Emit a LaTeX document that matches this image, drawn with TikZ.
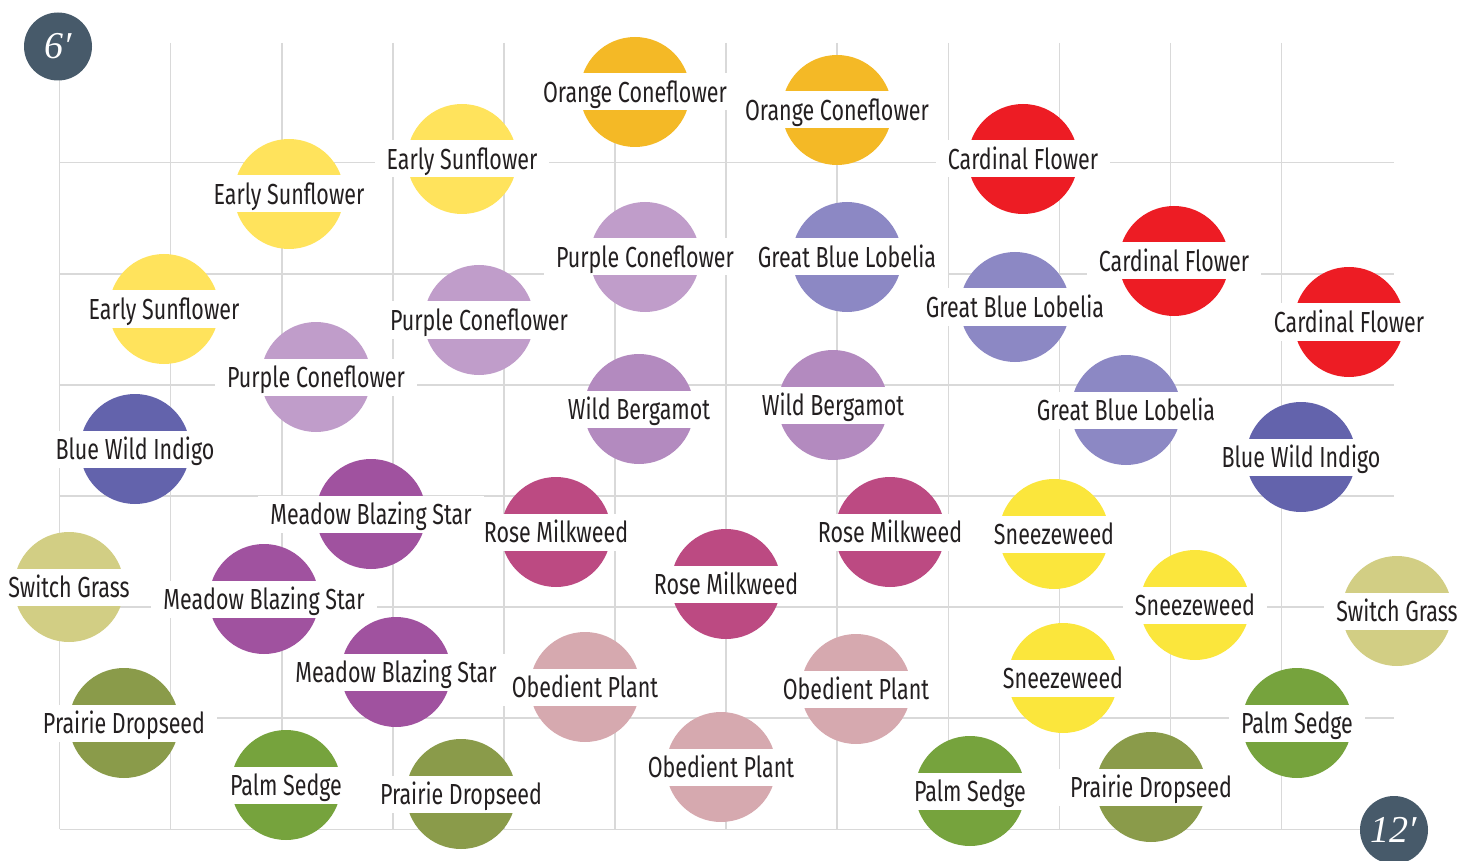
\documentclass[tikz,border=0pt]{standalone}
\usepackage{fontspec}
\newfontfamily\plantfont[FakeStretch=0.74]{Fira Sans}
\newfontfamily\feetfont{Liberation Serif}
\definecolor{gridgray}{HTML}{D9D9D9}
\definecolor{inkdark}{HTML}{231F20}
\definecolor{slate}{HTML}{475A6A}
\definecolor{orangecone}{HTML}{F4B926}
\definecolor{earlysun}{HTML}{FFE35C}
\definecolor{cardinal}{HTML}{ED1C24}
\definecolor{purplecone}{HTML}{C09DCA}
\definecolor{lobelia}{HTML}{8C88C4}
\definecolor{bergamot}{HTML}{B38ABF}
\definecolor{indigo}{HTML}{6363AC}
\definecolor{blazing}{HTML}{A0529F}
\definecolor{milkweed}{HTML}{BC4A82}
\definecolor{sneeze}{HTML}{FBE63C}
\definecolor{switchg}{HTML}{D2CE84}
\definecolor{dropseed}{HTML}{8A9B4A}
\definecolor{obedient}{HTML}{D6A9AF}
\definecolor{palmsedge}{HTML}{76A33D}
\newcommand\plant[5]{%
  \node[bloom,fill=#4] (#1) at (#2,#3) {};
  \node[tag] (#1-l) at (#2,#3) {#5};}
\begin{document}
\begin{tikzpicture}[x=1pt,y=-1pt,
  gridline/.style={draw=gridgray,line width=1.6pt},
  bloom/.style={circle,minimum size=110pt,inner sep=0pt,draw=none},
  tag/.style={fill=white,text=inkdark,font=\plantfont\fontsize{29}{31}\selectfont,
    inner xsep=12pt,inner ysep=0pt,text height=29pt,text depth=8pt},
  feet/.style={circle,fill=slate,minimum size=68pt,inner sep=0pt,text=white,
    font=\feetfont\itshape\fontsize{38}{42}\selectfont}]
\useasboundingbox (0,0) rectangle (1460,861);
% grid
\foreach \k in {0,...,11}
  \draw[gridline] (59.5+111.1*\k,43) -- (59.5+111.1*\k,829.3);
\foreach \k in {0,...,6}
  \draw[gridline] (59.5,162.7+111.1*\k) -- (1394,162.7+111.1*\k);
% plants
\plant{oc1}{635}{92}{orangecone}{Orange Coneflower}
\plant{oc2}{837}{110}{orangecone}{Orange Coneflower}
\plant{es1}{462}{159}{earlysun}{Early Sunflower}
\plant{es2}{289}{194}{earlysun}{Early Sunflower}
\plant{es3}{164}{309}{earlysun}{Early Sunflower}
\plant{cf1}{1023}{159}{cardinal}{Cardinal Flower}
\plant{cf2}{1174}{261}{cardinal}{Cardinal Flower}
\plant{cf3}{1349}{322}{cardinal}{Cardinal Flower}
\plant{pc1}{645}{257}{purplecone}{Purple Coneflower}
\plant{pc2}{479}{320}{purplecone}{Purple Coneflower}
\plant{pc3}{316}{377}{purplecone}{Purple Coneflower}
\plant{gl1}{847}{257}{lobelia}{Great Blue Lobelia}
\plant{gl2}{1015}{307}{lobelia}{Great Blue Lobelia}
\plant{gl3}{1126}{410}{lobelia}{Great Blue Lobelia}
\plant{wb1}{639}{409}{bergamot}{Wild Bergamot}
\plant{wb2}{833}{405}{bergamot}{Wild Bergamot}
\plant{bi1}{135}{449}{indigo}{Blue Wild Indigo}
\plant{bi2}{1301}{457}{indigo}{Blue Wild Indigo}
\plant{mb1}{371}{514}{blazing}{Meadow Blazing Star}
\plant{mb2}{264}{599}{blazing}{Meadow Blazing Star}
\plant{mb3}{396}{672}{blazing}{Meadow Blazing Star}
\plant{rm1}{556}{532}{milkweed}{Rose Milkweed}
\plant{rm2}{890}{532}{milkweed}{Rose Milkweed}
\plant{rm3}{726}{584}{milkweed}{Rose Milkweed}
\plant{sw1}{1054}{534}{sneeze}{Sneezeweed}
\plant{sw2}{1195}{605}{sneeze}{Sneezeweed}
\plant{sw3}{1063}{678}{sneeze}{Sneezeweed}
\plant{sg1}{69}{587}{switchg}{Switch Grass}
\plant{sg2}{1397}{611}{switchg}{Switch Grass}
\plant{pd1}{124}{723}{dropseed}{Prairie Dropseed}
\plant{pd2}{461}{794}{dropseed}{Prairie Dropseed}
\plant{pd3}{1151}{787}{dropseed}{Prairie Dropseed}
\plant{op1}{585}{687}{obedient}{Obedient Plant}
\plant{op2}{856}{689}{obedient}{Obedient Plant}
\plant{op3}{721}{767}{obedient}{Obedient Plant}
\plant{ps1}{286}{785}{palmsedge}{Palm Sedge}
\plant{ps2}{970}{791}{palmsedge}{Palm Sedge}
\plant{ps3}{1297}{723}{palmsedge}{Palm Sedge}
% scale markers
\node[feet] (six) at (58,46.5) {6′};
\node[feet] (twelve) at (1394,830) {12′};
\end{tikzpicture}
\end{document}
